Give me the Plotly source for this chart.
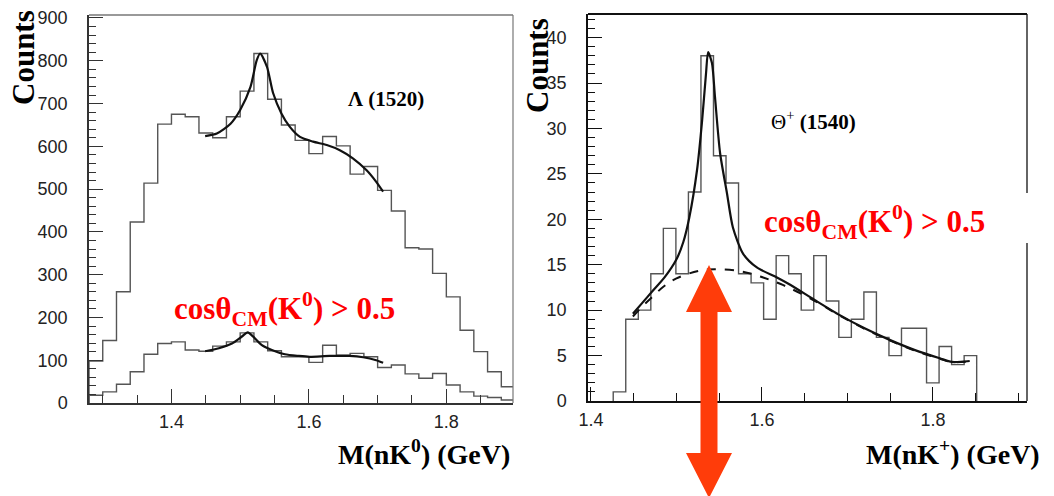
import plotly.graph_objects as go

# ---------------- data ----------------
# Left panel: M(nK0) histograms, bins of 0.02 GeV starting at 1.28
lam_lo = 1.28
lam_w = 0.02
lam_all = [98, 146, 260, 423, 514, 652, 675, 669, 631, 620, 669, 729, 817, 710, 650,
           614, 583, 623, 601, 535, 553, 497, 449, 363, 360, 303, 248, 170, 120, 73, 38]
lam_cut = [18, 26, 44, 73, 114, 139, 143, 124, 121, 133, 143, 164, 143, 122, 108,
           108, 95, 135, 112, 116, 108, 83, 89, 68, 58, 69, 42, 26, 16, 13, 7]

lam_fit_x = [1.449, 1.466, 1.486, 1.500, 1.515, 1.524, 1.529, 1.539, 1.548, 1.560,
             1.572, 1.587, 1.606, 1.626, 1.645, 1.664, 1.684, 1.698, 1.708]
lam_fit_y = [624, 630, 653, 685, 739, 801, 817, 786, 724, 677,
             646, 622, 611, 603, 591, 572, 544, 517, 494]

lam_cut_fit_x = [1.449, 1.469, 1.488, 1.503, 1.511, 1.519, 1.531, 1.546, 1.565, 1.585,
                 1.601, 1.630, 1.659, 1.679, 1.698, 1.708]
lam_cut_fit_y = [121, 128, 139, 156, 165, 155, 136, 124, 114, 110,
                 108, 110, 110, 107, 100, 94]

# Right panel: M(nK+) histogram
theta_lo = 1.426
theta_w = 0.01466
theta_counts = [1, 9, 10, 14, 19, 14, 23, 38, 27, 24, 14, 13, 9, 16, 14, 10, 16, 11,
                7, 9, 12, 7, 5, 8, 8, 2, 6, 4, 5]

theta_fit_x = [1.449, 1.460, 1.472, 1.486, 1.500, 1.508, 1.515, 1.524, 1.530, 1.5345,
               1.537, 1.5415, 1.545, 1.551, 1.559, 1.566, 1.578, 1.594, 1.6175, 1.633,
               1.662, 1.691, 1.720, 1.750, 1.779, 1.808, 1.822, 1.843]
theta_fit_y = [9.6, 10.8, 12.1, 13.6, 15.6, 17.5, 20.2, 25.4, 30.9, 36.0,
               38.4, 37.2, 33.5, 27.3, 22.9, 19.1, 16.2, 14.7, 13.6, 12.8,
               11.1, 9.45, 8.0, 6.7, 5.6, 4.7, 4.3, 4.4]

theta_bg_x = [1.449, 1.460, 1.471, 1.485, 1.500, 1.527, 1.545, 1.574, 1.598, 1.625,
              1.662, 1.691, 1.720, 1.750, 1.779, 1.808, 1.822, 1.843]
theta_bg_y = [9.3, 10.4, 11.4, 12.6, 13.5, 14.35, 14.5, 14.3, 13.7, 12.75,
              11.0, 9.4, 7.95, 6.65, 5.55, 4.65, 4.3, 4.35]

# ---------------- helpers ----------------
W, H = 1054, 496


def px(x):
    return x / W


def py(y):
    return 1 - y / H


def step_xy(lo, w, vals):
    edges = [lo + w * i for i in range(len(vals) + 1)]
    xs = [edges[0]] + edges[:-1] + [edges[-1], edges[-1]]
    ys = [0] + list(vals) + [vals[-1], 0]
    return xs, ys


fig = go.Figure()

HIST = dict(color="#555555", width=1.4, shape="hv")
FIT = dict(color="#111111", width=2.2, shape="spline", smoothing=0.7)

x, y = step_xy(lam_lo, lam_w, lam_all)
fig.add_trace(go.Scatter(x=x, y=y, mode="lines", line=HIST, xaxis="x", yaxis="y"))
x, y = step_xy(lam_lo, lam_w, lam_cut)
fig.add_trace(go.Scatter(x=x, y=y, mode="lines", line=HIST, xaxis="x", yaxis="y"))
fig.add_trace(go.Scatter(x=lam_fit_x, y=lam_fit_y, mode="lines", line=FIT, xaxis="x", yaxis="y"))
fig.add_trace(go.Scatter(x=lam_cut_fit_x, y=lam_cut_fit_y, mode="lines", line=FIT, xaxis="x", yaxis="y"))

x, y = step_xy(theta_lo, theta_w, theta_counts)
fig.add_trace(go.Scatter(x=x, y=y, mode="lines", line=HIST, xaxis="x2", yaxis="y2"))
fig.add_trace(go.Scatter(x=theta_bg_x, y=theta_bg_y, mode="lines",
                         line=dict(color="#111111", width=2, dash="dash", shape="spline"),
                         xaxis="x2", yaxis="y2"))
fig.add_trace(go.Scatter(x=theta_fit_x, y=theta_fit_y, mode="lines", line=FIT, xaxis="x2", yaxis="y2"))

TICKFONT = dict(family="Liberation Sans, Arial, sans-serif", size=18, color="#222222")


def xaxis_cfg(domain, rng, anchor, lc):
    return dict(domain=domain, range=rng, anchor=anchor, showgrid=False, zeroline=False,
                automargin=False,
                showline=True, linecolor=lc, linewidth=1.5,
                tickmode="linear", tick0=1.4, dtick=0.2, tickformat=".1f",
                ticks="inside", ticklen=14, tickwidth=1.3, tickcolor=lc,
                minor=dict(tick0=1.4, dtick=0.05, ticks="inside", ticklen=8,
                           tickwidth=1.2, tickcolor=lc, showgrid=False),
                tickfont=TICKFONT, ticklabelstandoff=2, fixedrange=True)


def yaxis_cfg(domain, rng, anchor, lc, major, minor):
    return dict(domain=domain, range=rng, anchor=anchor, showgrid=False, zeroline=False,
                automargin=False,
                showline=True, linecolor=lc, linewidth=1.5,
                tickmode="linear", tick0=0, dtick=major,
                ticks="inside", ticklen=14, tickwidth=1.3, tickcolor=lc,
                minor=dict(tick0=0, dtick=minor, ticks="inside", ticklen=7,
                           tickwidth=1.2, tickcolor=lc, showgrid=False),
                tickfont=TICKFONT, ticklabelstandoff=16, fixedrange=True)


fig.update_layout(
    width=W, height=H, margin=dict(l=0, r=0, t=0, b=0, autoexpand=False),
    paper_bgcolor="white", plot_bgcolor="white", showlegend=False,
    xaxis=xaxis_cfg([px(89), px(513)], [1.28, 1.897], "y", "#333333"),
    yaxis=yaxis_cfg([py(403), py(15)], [0, 907], "x", "#333333", 100, 20),
    xaxis2=xaxis_cfg([px(588), px(1027)], [1.3965, 1.91], "y2", "#111111"),
    yaxis2=yaxis_cfg([py(401), py(14)], [0, 42.6], "x2", "#111111", 5, 1),
)

shapes = [
    # left frame: top and right edges (grey)
    dict(type="line", xref="paper", yref="paper", x0=px(89), x1=px(513), y0=py(15), y1=py(15),
         line=dict(color="#999999", width=2)),
    dict(type="line", xref="paper", yref="paper", x0=px(513), x1=px(513), y0=py(15), y1=py(403),
         line=dict(color="#777777", width=1.2)),
    # right frame: top and right edges (black)
    dict(type="line", xref="paper", yref="paper", x0=px(588), x1=px(1027), y0=py(14), y1=py(14),
         line=dict(color="#111111", width=2)),
    dict(type="line", xref="paper", yref="paper", x0=px(1027), x1=px(1027), y0=py(14), y1=py(401),
         line=dict(color="#111111", width=1.3)),
    # white box behind the right red label
    dict(type="rect", xref="paper", yref="paper", x0=px(757), x1=px(1040), y0=py(243), y1=py(193),
         fillcolor="white", line=dict(width=0), layer="above"),
]

# red double-headed arrow
ax, sh, hw = 709, 8.5, 23
top, hb1, hb2, bot = 265, 312, 453, 498
pts = [(ax, top), (ax + hw, hb1), (ax + sh, hb1), (ax + sh, hb2), (ax + hw, hb2), (ax, bot),
       (ax - hw, hb2), (ax - sh, hb2), (ax - sh, hb1), (ax - hw, hb1)]
path = "M " + " L ".join(f"{px(a):.5f},{py(b):.5f}" for a, b in pts) + " Z"
shapes.append(dict(type="path", xref="paper", yref="paper", path=path,
                   fillcolor="#ff3c0a", line=dict(color="#ff3c0a", width=0), layer="above"))
fig.update_layout(shapes=shapes)

SERIF = "Liberation Serif, Times New Roman, serif"


def ann(text, x, y, size, color="black", angle=0, xanchor="center"):
    fig.add_annotation(text=text, xref="paper", yref="paper", x=px(x), y=py(y),
                       xanchor=xanchor, yanchor="middle", showarrow=False, textangle=angle,
                       font=dict(family=SERIF, size=size, color=color))


ann("<b>Counts</b>", 23, 58, 31, angle=-90)
ann("<b>Counts</b>", 537, 66, 31, angle=-90)
ann("<b>M(nK<sup>0</sup>) (GeV)</b>", 424, 452, 28)
ann("<b>M(nK<sup>+</sup>) (GeV)</b>", 953, 452, 28)
ann("<b>Λ (1520)</b>", 386, 99, 21)
ann("Θ<sup>+</sup> <b>(1540)</b>", 813, 120, 21)
ann("<b>cosθ<sub>CM</sub>(K<sup>0</sup>) > 0.5</b>", 172, 309, 31, color="#ff0000", xanchor="left")
ann("<b>cosθ<sub>CM</sub>(K<sup>0</sup>) > 0.5</b>", 762, 222, 31, color="#ff0000", xanchor="left")

fig.write_html("out.html")
